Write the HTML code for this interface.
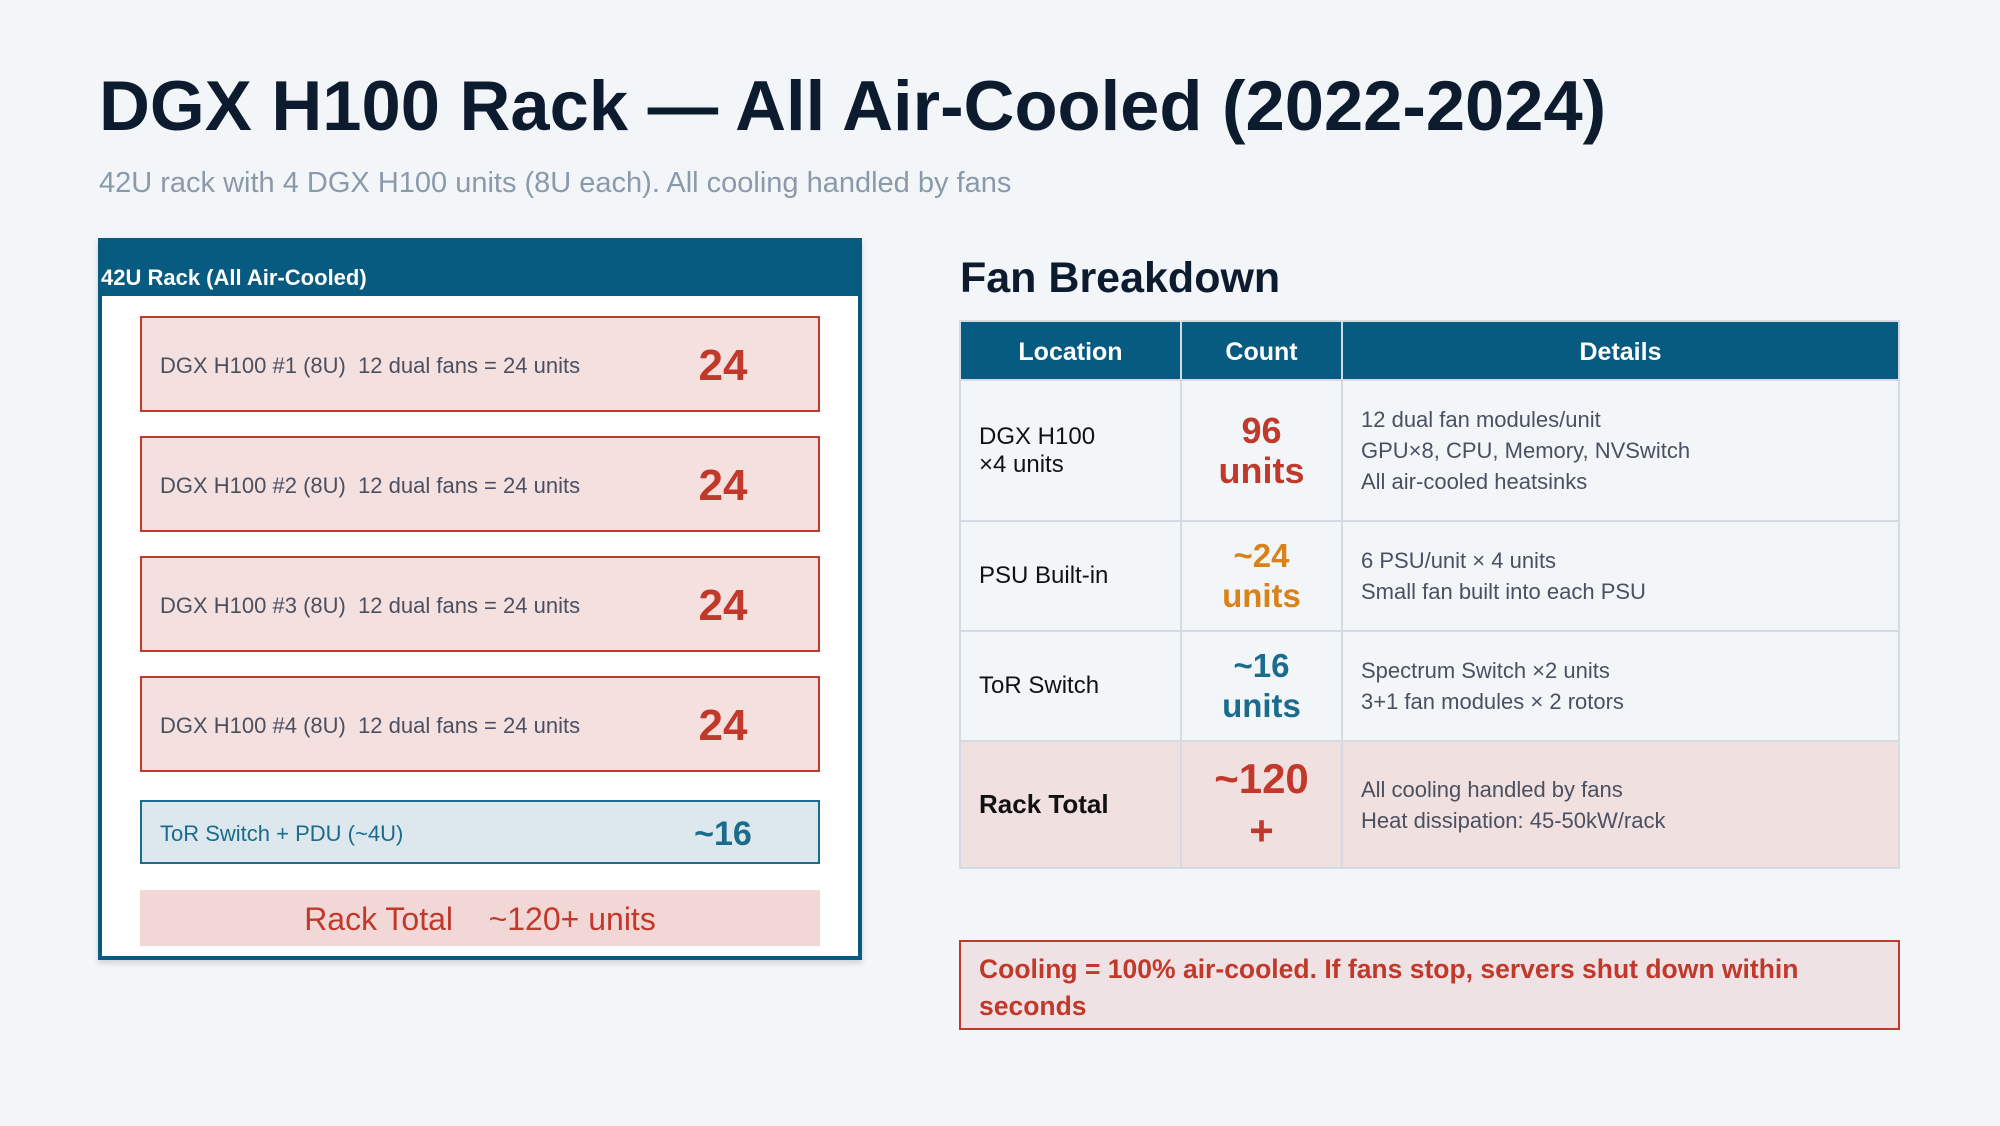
<!DOCTYPE html>
<html><head><meta charset="utf-8"><style>
*{margin:0;padding:0;box-sizing:border-box}
body{width:2000px;height:1126px;background:#f3f6f9;font-family:"Liberation Sans",sans-serif;position:relative;overflow:hidden}
.a{position:absolute;white-space:nowrap}
.box{position:absolute;left:140px;width:680px;height:96px;background:#f5e0e0;border:2px solid #c0392b}
.box .t{position:absolute;left:18px;top:2px;line-height:92px;font-size:22px;color:#4a5060}
.box .n{position:absolute;left:530px;width:102px;text-align:center;top:2px;line-height:92px;font-size:44px;font-weight:bold;color:#c0392b}
table{position:absolute;left:959px;top:320px;width:941px;border-collapse:collapse;font-size:24px}
td,th{border:2px solid #d4dbe2}
th{background:#075a80;color:#fff;height:59px;font-weight:bold;font-size:25px;padding-top:3px}
td{padding:0 18px;color:#111}
td.c{text-align:center;font-weight:bold;font-size:36px;line-height:40px;padding:0}
td.d{font-size:22px;color:#4a5060;line-height:31px}
</style></head><body>
<div class="a" style="left:99px;top:65px;font-size:70.5px;font-weight:bold;color:#0d1b2e">DGX H100 Rack — All Air-Cooled (2022-2024)</div>
<div class="a" style="left:99px;top:167px;font-size:29px;color:#8a9aab">42U rack with 4 DGX H100 units (8U each). All cooling handled by fans</div>

<div class="a" style="left:98px;top:238px;width:764px;height:722px;background:#fff;border:4px solid #075a80;box-shadow:0 3px 6px rgba(0,0,0,.15)"></div>
<div class="a" style="left:98px;top:238px;width:764px;height:58px;background:#075a80"></div>
<div class="a" style="left:101px;top:265px;font-size:22px;font-weight:bold;color:#fff">42U Rack (All Air-Cooled)</div>

<div class="box" style="top:316px"><div class="t">DGX H100 #1 (8U)&nbsp; 12 dual fans = 24 units</div><div class="n">24</div></div>
<div class="box" style="top:436px"><div class="t">DGX H100 #2 (8U)&nbsp; 12 dual fans = 24 units</div><div class="n">24</div></div>
<div class="box" style="top:556px"><div class="t">DGX H100 #3 (8U)&nbsp; 12 dual fans = 24 units</div><div class="n">24</div></div>
<div class="box" style="top:676px"><div class="t">DGX H100 #4 (8U)&nbsp; 12 dual fans = 24 units</div><div class="n">24</div></div>
<div class="box" style="top:800px;height:64px;background:#dde8ee;border-color:#1b6b8c"><div class="t" style="line-height:60px;color:#1b6b8c">ToR Switch + PDU (~4U)</div><div class="n" style="line-height:60px;font-size:34px;color:#1b6b8c">~16</div></div>
<div class="a" style="left:140px;top:890px;width:680px;height:56px;background:#f2d7d7;color:#c0392b;font-size:32px;text-align:center;line-height:58px">Rack Total&nbsp;&nbsp;&nbsp; ~120+ units</div>

<div class="a" style="left:960px;top:254px;font-size:43px;font-weight:bold;color:#0d1b2e">Fan Breakdown</div>
<table>
<tr><th style="width:221px">Location</th><th style="width:161px">Count</th><th>Details</th></tr>
<tr style="height:141px"><td>DGX H100<br>×4 units</td><td class="c" style="color:#c0392b">96<br>units</td><td class="d">12 dual fan modules/unit<br>GPU×8, CPU, Memory, NVSwitch<br>All air-cooled heatsinks</td></tr>
<tr style="height:110px"><td>PSU Built-in</td><td class="c" style="color:#d9821a;font-size:33px">~24<br>units</td><td class="d">6 PSU/unit × 4 units<br>Small fan built into each PSU</td></tr>
<tr style="height:110px"><td>ToR Switch</td><td class="c" style="color:#1b6b8c;font-size:33px">~16<br>units</td><td class="d">Spectrum Switch ×2 units<br>3+1 fan modules × 2 rotors</td></tr>
<tr style="height:127px;background:#f1e0e0"><td style="font-weight:bold;font-size:26px">Rack Total</td><td class="c" style="color:#c0392b;font-size:42px;line-height:52px">~120<br>+</td><td class="d">All cooling handled by fans<br>Heat dissipation: 45-50kW/rack</td></tr>
</table>

<div class="a" style="left:959px;top:940px;width:941px;height:90px;background:#efe2e4;border:2px solid #c0392b;white-space:normal;padding:9px 18px;font-size:26.5px;font-weight:bold;color:#c0392b;line-height:37px">Cooling = 100% air-cooled. If fans stop, servers shut down within seconds</div>
</body></html>
